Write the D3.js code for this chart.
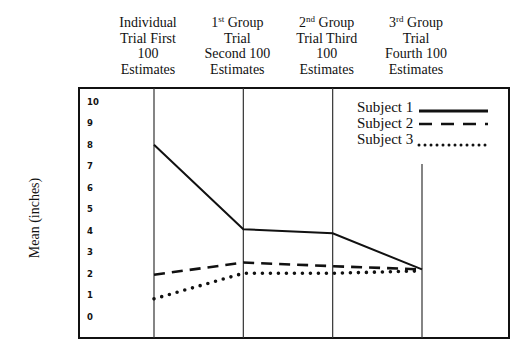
<!DOCTYPE html>
<html>
<head>
<meta charset="utf-8">
<script src="https://cdn.jsdelivr.net/npm/d3@7"></script>
<style>
  body { margin: 0; background: #fff; }
  text { font-family: "Liberation Serif", "Times New Roman", serif; fill: #111; }
  .tick-label { font-family: "DejaVu Sans", sans-serif; font-size: 8.5px; font-weight: bold; }
</style>
</head>
<body>
<svg width="527" height="352"></svg>
<script>
var trials = ["t1", "t2", "t3", "t4"];
var headerOrd = ["", "st", "nd", "rd"];
var headerLines = [
    ["Individual", "Trial First", "100", "Estimates"],
    ["1| Group", "Trial", "Second 100", "Estimates"],
    ["2| Group", "Trial Third", "100", "Estimates"],
    ["3| Group", "Trial", "Fourth 100", "Estimates"]
];
var yTicks = [0, 1, 2, 3, 4, 5, 6, 7, 8, 9, 10];
var subjects = ["Subject 1", "Subject 2", "Subject 3"];
var subject1 = [8, 4.07, 3.88, 2.2];
var subject2 = [1.95, 2.52, 2.35, 2.2];
var subject3 = [0.83, 2.02, 2.02, 2.13];

var svg = d3.select("svg");
var box = { left: 79, top: 88, right: 509, bottom: 338 };

var x = d3.scalePoint().domain(trials).range([154, 422]);
var y = d3.scaleLinear().domain([0, 10]).range([316.7, 101.7]);

// outer frame
svg.append("rect")
    .attr("x", box.left).attr("y", box.top)
    .attr("width", box.right - box.left).attr("height", box.bottom - box.top)
    .attr("fill", "none").attr("stroke", "#111").attr("stroke-width", 2);

// vertical trial lines (last one stops below the legend)
trials.forEach((t, i) => {
    svg.append("line")
        .attr("x1", x(t)).attr("x2", x(t))
        .attr("y1", i == 3 ? 164 : box.top).attr("y2", box.bottom)
        .attr("stroke", "#333").attr("stroke-width", 1.2);
});

// y tick labels
svg.selectAll(".tick-label")
    .data(yTicks)
    .enter().append("text")
    .attr("class", "tick-label")
    .attr("x", 87)
    .attr("y", d => y(d))
    .attr("dy", "0.35em")
    .text(d => d);

// y axis title
svg.append("text")
    .attr("transform", "translate(39,218) rotate(-90)")
    .attr("text-anchor", "middle")
    .style("font-size", "14px")
    .text("Mean (inches)");

// column headers
headerLines.forEach((lines, i) => {
    var t = svg.append("text")
        .attr("text-anchor", "middle")
        .style("font-size", "14px");
    lines.forEach((line, j) => {
        var ty = 27 + j * 15.5;
        var tx = x(trials[i]) - 6;
        if (line.indexOf("|") > 0) {
            var parts = line.split("|");
            var row = t.append("tspan").attr("x", tx).attr("y", ty);
            row.append("tspan").text(parts[0]);
            row.append("tspan").attr("dy", -5).style("font-size", "9px").text(headerOrd[i]);
            row.append("tspan").attr("dy", 5).text(parts[1]);
        } else {
            t.append("tspan").attr("x", tx).attr("y", ty).text(line);
        }
    });
});

var styles = [
    { width: 2, dash: null, cap: "butt" },
    { width: 2.6, dash: "11,7", cap: "butt" },
    { width: 3.6, dash: "0,8", cap: "round" }
];
var series = [subject1, subject2, subject3];

var line = d3.line()
    .x((d, i) => x(trials[i]))
    .y(d => y(d));

series.forEach((s, i) => {
    svg.append("path")
        .attr("d", line(s))
        .attr("fill", "none")
        .attr("stroke", "#111")
        .attr("stroke-width", styles[i].width)
        .attr("stroke-dasharray", styles[i].dash)
        .attr("stroke-linecap", styles[i].cap);
});

// legend
var legend = svg.append("g").attr("transform", "translate(357,112)");
subjects.forEach((name, i) => {
    var row = legend.append("g").attr("transform", "translate(0," + (i * 16) + ")");
    row.append("text")
        .attr("x", 0).attr("y", 0)
        .style("font-size", "15px")
        .text(name);
    row.append("line")
        .attr("x1", 62).attr("x2", 131)
        .attr("y1", i == 0 ? -1 : (i == 1 ? -4 : 1))
        .attr("y2", i == 0 ? -1 : (i == 1 ? -4 : 1))
        .attr("stroke", "#111")
        .attr("stroke-width", i == 2 ? 3 : styles[i].width + (i == 0 ? 0.8 : 0))
        .attr("stroke-dasharray", i == 1 ? "13,9" : (i == 2 ? "0,6" : null))
        .attr("stroke-linecap", styles[i].cap);
});
</script>
</body>
</html>
